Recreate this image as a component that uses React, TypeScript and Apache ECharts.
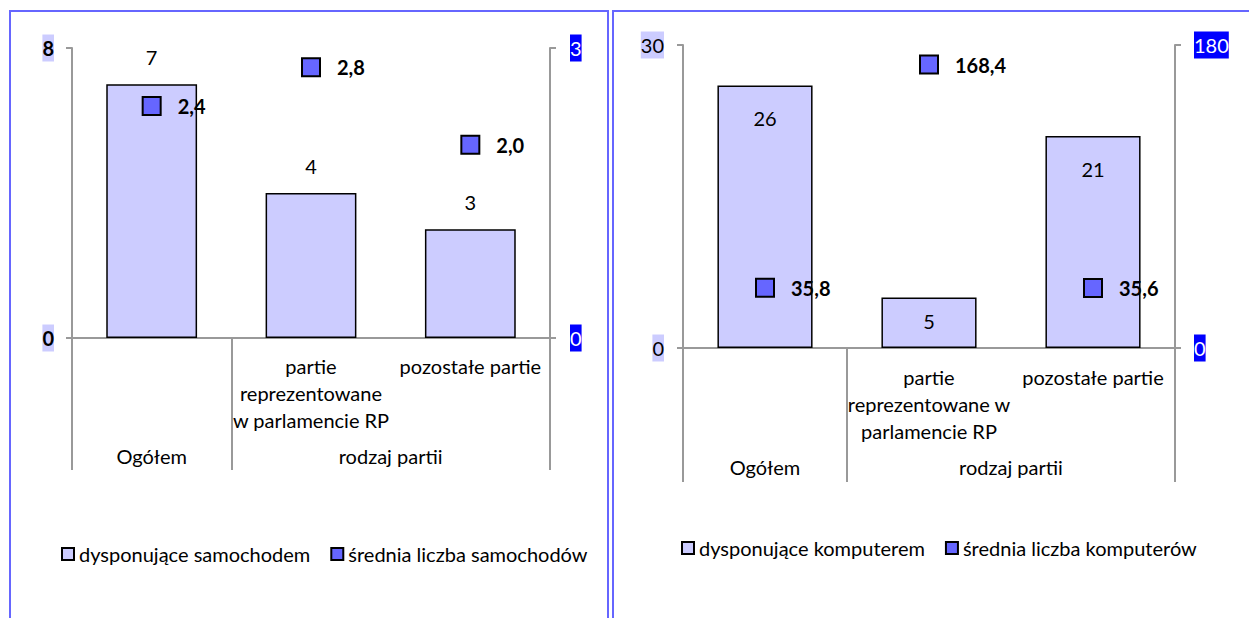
import React, { useEffect, useRef } from "react";
import * as echarts from "echarts";

// ---- data ----
const categoryKeys = ["Ogółem", "partie reprezentowane w parlamencie RP", "pozostałe partie"];
const leftInnerLabels = ["", "partie\nreprezentowane\nw parlamencie RP", "pozostałe partie"];
const rightInnerLabels = ["", "partie\nreprezentowane w\nparlamencie RP", "pozostałe partie"];
const groupLabels = ["Ogółem", "rodzaj partii"];
const groupSpans = [1, 2];

const carShareName = "dysponujące samochodem";
const carAvgName = "średnia liczba samochodów";
const carShare = [7, 4, 3];
const carAvg = [2.4, 2.8, 2.0];
const carLeftMax = 8;
const carRightMax = 3;

const pcShareName = "dysponujące komputerem";
const pcAvgName = "średnia liczba komputerów";
const pcShare = [26, 5, 21];
const pcAvg = [35.8, 168.4, 35.6];
const pcLeftMax = 30;
const pcRightMax = 180;

// ---- style ----
const FONT = "Lato";
const FS = 20;
const GRAY = "#999999";
const BAR = "#ccccff";
const MARK = "#6666ff";
const FRAME = "#6666ff";

const groupBounds = groupSpans.reduce<number[]>((acc, s) => { acc.push(acc[acc.length - 1] + s); return acc; }, [0]);
const groupCenters = groupSpans.map((s, i) => groupBounds[i] + s / 2);
const totalCats = groupBounds[groupBounds.length - 1];

function fmt1(v: number) {
  return v.toFixed(1).replace(".", ",");
}

function catAxis(gridIndex: number, labels: string[], margin: number) {
  return {
    type: "category",
    gridIndex,
    data: categoryKeys,
    position: "bottom",
    axisLine: { show: true, lineStyle: { color: GRAY, width: 2 } },
    axisTick: { show: false },
    axisLabel: {
      interval: 0,
      margin,
      color: "#000",
      fontFamily: FONT,
      fontSize: FS,
      lineHeight: 27,
      formatter: (_v: string, i: number) => labels[i],
    },
    splitLine: { show: false },
  };
}

function groupAxis(gridIndex: number, tickLen: number, margin: number) {
  return {
    type: "value",
    gridIndex,
    position: "bottom",
    min: 0,
    max: totalCats,
    axisLine: { show: false },
    axisTick: { show: true, customValues: groupBounds, length: tickLen, lineStyle: { color: GRAY, width: 2 } },
    axisLabel: {
      show: true,
      customValues: groupCenters,
      margin,
      color: "#000",
      fontFamily: FONT,
      fontSize: FS,
      formatter: (v: number) => {
        const idx = groupCenters.findIndex((c) => Math.abs(c - v) < 1e-6);
        return idx >= 0 ? groupLabels[idx] : "";
      },
    },
    splitLine: { show: false },
  };
}

function valAxis(gridIndex: number, max: number, pos: "left" | "right", bold: boolean, bg: string, color: string, margin: number) {
  return {
    type: "value",
    gridIndex,
    position: pos,
    min: 0,
    max,
    interval: max,
    axisLine: { show: true, lineStyle: { color: GRAY, width: 2 } },
    axisTick: { show: true, length: 6, lineStyle: { color: GRAY, width: 2 } },
    splitLine: { show: false },
    axisLabel: {
      margin,
      color,
      fontFamily: FONT,
      fontSize: FS,
      fontWeight: bold ? "bold" : "normal",
      backgroundColor: bg,
      lineHeight: 27,
    },
  };
}

export default function App() {
  const ref = useRef<HTMLDivElement>(null);
  useEffect(() => {
    if (!ref.current) return;
    const chart = echarts.init(ref.current, null, { renderer: "svg" });
    const scatterLabel = {
      show: true,
      position: "right",
      distance: 16,
      color: "#000",
      fontFamily: FONT,
      fontSize: FS,
      fontWeight: "bold",
      formatter: (p: any) => fmt1(p.value),
    };
    const legendText = { fontFamily: FONT, fontSize: FS, color: "#000" };
    const option: any = {
      animation: false,
      textStyle: { fontFamily: FONT },
      graphic: [
        { type: "rect", z: -10, shape: { x: 10, y: 11, width: 598, height: 700 }, style: { fill: "none", stroke: FRAME, lineWidth: 2 } },
        { type: "rect", z: -10, shape: { x: 613, y: 11, width: 700, height: 700 }, style: { fill: "none", stroke: FRAME, lineWidth: 2 } },
      ],
      grid: [
        { left: 72, top: 48, width: 478, height: 290, containLabel: false },
        { left: 683, top: 45, width: 492, height: 303, containLabel: false },
      ],
      xAxis: [
        catAxis(0, leftInnerLabels, 14.5),
        groupAxis(0, 132, 107.5),
        catAxis(1, rightInnerLabels, 15.5),
        groupAxis(1, 134, 108.5),
      ],
      yAxis: [
        valAxis(0, carLeftMax, "left", true, BAR, "#000", 18),
        valAxis(0, carRightMax, "right", false, "#0000ff", "#fff", 20),
        valAxis(1, pcLeftMax, "left", false, BAR, "#000", 19),
        valAxis(1, pcRightMax, "right", false, "#0000ff", "#fff", 19),
      ],
      legend: [
        {
          left: 56, top: 539, icon: "rect", itemWidth: 12, itemHeight: 12, itemGap: 20,
          data: [carShareName, carAvgName],
          textStyle: legendText,
        },
        {
          left: 676, top: 533, icon: "rect", itemWidth: 12, itemHeight: 12, itemGap: 20,
          data: [pcShareName, pcAvgName],
          textStyle: legendText,
        },
      ],
      series: [
        {
          name: carShareName, type: "bar", xAxisIndex: 0, yAxisIndex: 0, data: carShare, barWidth: "57%",
          itemStyle: { color: BAR, borderColor: "#000", borderWidth: 1.5 },
          label: { show: true, position: "top", distance: 17, color: "#000", fontFamily: FONT, fontSize: FS },
        },
        {
          name: carAvgName, type: "scatter", xAxisIndex: 0, yAxisIndex: 1, data: carAvg,
          symbol: "rect", symbolSize: 18,
          itemStyle: { color: MARK, borderColor: "#000", borderWidth: 2, opacity: 1 },
          label: scatterLabel,
        },
        {
          name: pcShareName, type: "bar", xAxisIndex: 2, yAxisIndex: 2,
          data: pcShare.map((v, i) => (i === 1 ? { value: v, label: { distance: 13 } } : v)),
          barWidth: "58%",
          itemStyle: { color: BAR, borderColor: "#000", borderWidth: 1.5 },
          label: { show: true, position: "insideTop", distance: 23, color: "#000", fontFamily: FONT, fontSize: FS },
        },
        {
          name: pcAvgName, type: "scatter", xAxisIndex: 2, yAxisIndex: 3, data: pcAvg,
          symbol: "rect", symbolSize: 18,
          itemStyle: { color: MARK, borderColor: "#000", borderWidth: 2, opacity: 1 },
          label: scatterLabel,
        },
      ],
    };
    chart.setOption(option);
    return () => chart.dispose();
  }, []);
  return (
    <div
      ref={ref}
      style={{ position: "absolute", left: 0, top: 0, width: 1249, height: 618, background: "#fff" }}
    />
  );
}
